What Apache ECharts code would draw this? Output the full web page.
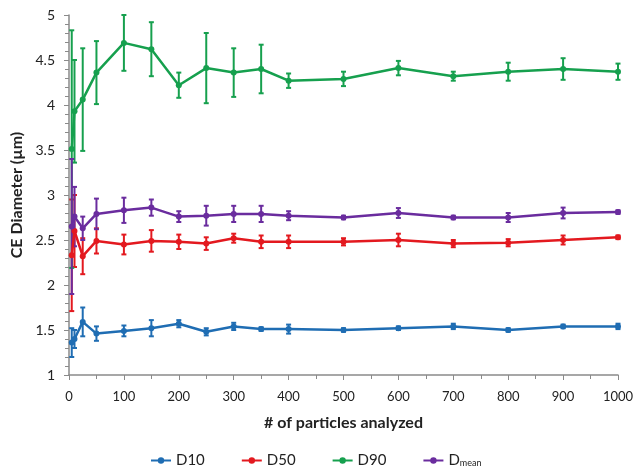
<!DOCTYPE html>
<html>
<head>
<meta charset="utf-8">
<script src="https://cdn.jsdelivr.net/npm/echarts@6/dist/echarts.min.js"></script>
<style>
  html, body { margin: 0; padding: 0; background: #fff; }
  #main { width: 637px; height: 466px; }
</style>
</head>
<body>
<div id="main"></div>
<script>
// number of particles analyzed
var xs = [5, 10, 25, 50, 100, 150, 200, 250, 300, 350, 400, 500, 600, 700, 800, 900, 1000];

// CE diameter (µm) and error (±)
var d10 = [1.36, 1.40, 1.59, 1.46, 1.49, 1.52, 1.57, 1.48, 1.54, 1.51, 1.51, 1.50, 1.52, 1.54, 1.50, 1.54, 1.54];
var d10Err = [0.16, 0.10, 0.16, 0.08, 0.06, 0.09, 0.04, 0.04, 0.04, 0.02, 0.05, 0.02, 0.02, 0.03, 0.02, 0.02, 0.03];

var d50 = [2.33, 2.60, 2.32, 2.49, 2.45, 2.49, 2.48, 2.46, 2.52, 2.48, 2.48, 2.48, 2.50, 2.46, 2.47, 2.50, 2.53];
var d50Err = [0.62, 0.40, 0.20, 0.14, 0.11, 0.12, 0.08, 0.07, 0.05, 0.07, 0.07, 0.04, 0.07, 0.04, 0.04, 0.05, 0.02];

var d90 = [3.51, 3.93, 4.06, 4.36, 4.69, 4.62, 4.22, 4.41, 4.36, 4.40, 4.27, 4.29, 4.41, 4.32, 4.37, 4.40, 4.37];
var d90Err = [1.32, 0.57, 0.57, 0.35, 0.31, 0.30, 0.14, 0.39, 0.27, 0.27, 0.08, 0.08, 0.08, 0.05, 0.10, 0.12, 0.09];

var dmean = [2.65, 2.76, 2.63, 2.79, 2.83, 2.86, 2.76, 2.77, 2.79, 2.79, 2.77, 2.75, 2.80, 2.75, 2.75, 2.80, 2.81];
var dmeanErr = [0.75, 0.33, 0.13, 0.17, 0.14, 0.09, 0.06, 0.11, 0.09, 0.09, 0.05, 0.02, 0.055, 0.02, 0.05, 0.06, 0.02];

var names = ['D10', 'D50', 'D90', 'Dmean'];
var colors = ['#1f6db3', '#e3191f', '#16a04e', '#6a2c9e'];
var values = [d10, d50, d90, dmean];
var errors = [d10Err, d50Err, d90Err, dmeanErr];

var myChart = echarts.init(document.getElementById('main'));

function makeErrorRender(color) {
  return function (params, api) {
    var x = api.value(0);
    var top = api.coord([x, api.value(2)]);
    var bot = api.coord([x, api.value(1)]);
    var w = 2.5;
    var st = { stroke: color, lineWidth: 2 };
    return {
      type: 'group',
      children: [
        { type: 'line', shape: { x1: top[0], y1: top[1], x2: bot[0], y2: bot[1] }, style: st },
        { type: 'line', shape: { x1: top[0] - w, y1: top[1], x2: top[0] + w, y2: top[1] }, style: st },
        { type: 'line', shape: { x1: bot[0] - w, y1: bot[1], x2: bot[0] + w, y2: bot[1] }, style: st }
      ]
    };
  };
}

var series = [];
// lines first so the legend takes their icon
names.forEach(function (name, i) {
  series.push({
    name: name,
    type: 'line',
    data: xs.map(function (x, k) { return [x, values[i][k]]; }),
    symbol: 'circle',
    symbolSize: 6,
    lineStyle: { color: colors[i], width: 2.5 },
    itemStyle: { color: colors[i] },
    z: 3
  });
});
names.forEach(function (name, i) {
  series.push({
    name: name,
    type: 'custom',
    renderItem: makeErrorRender(colors[i]),
    itemStyle: { color: colors[i] },
    data: xs.map(function (x, k) {
      return [x, values[i][k] - errors[i][k], values[i][k] + errors[i][k]];
    }),
    z: 2,
    silent: true
  });
});

var axisColor = '#8a8a8a';
var option = {
  animation: false,
  color: colors,
  textStyle: { fontFamily: 'Lato' },
  grid: { left: 69, right: 19, top: 15, bottom: 91 },
  legend: {
    data: names,
    top: 448,
    left: 145,
    itemGap: 36,
    itemWidth: 20,
    itemHeight: 8,
    textStyle: {
      fontSize: 15,
      color: '#222',
      rich: { sub: { fontSize: 9, verticalAlign: 'bottom', padding: [6, 0, 0, 0], color: '#222' } }
    },
    formatter: function (n) {
      return n === 'Dmean' ? 'D{sub|mean}' : n;
    }
  },
  xAxis: {
    type: 'value',
    min: 0,
    max: 1000,
    interval: 100,
    name: '# of particles analyzed',
    nameLocation: 'middle',
    nameGap: 40,
    nameTextStyle: { fontSize: 16, fontWeight: 'bold', color: '#222' },
    axisLine: { lineStyle: { color: axisColor, width: 1.5 } },
    axisTick: { length: 5, lineStyle: { color: axisColor } },
    minorTick: { show: true, splitNumber: 2, length: 4, lineStyle: { color: axisColor } },
    axisLabel: { fontSize: 13, color: '#222', margin: 15, formatter: function (v) { return String(v); } },
    splitLine: { show: false }
  },
  yAxis: {
    type: 'value',
    min: 1,
    max: 5,
    interval: 0.5,
    name: 'CE Diameter (µm)',
    nameLocation: 'middle',
    nameGap: 41,
    nameTextStyle: { fontSize: 16, fontWeight: 'bold', color: '#222' },
    axisLine: { show: true, lineStyle: { color: axisColor, width: 1.5 } },
    axisTick: { show: true, length: 5, lineStyle: { color: axisColor } },
    minorTick: { show: true, splitNumber: 5, length: 4, lineStyle: { color: axisColor } },
    axisLabel: { fontSize: 14, color: '#222', margin: 14 },
    splitLine: { show: false }
  },
  series: series
};

myChart.setOption(option);
</script>
</body>
</html>
